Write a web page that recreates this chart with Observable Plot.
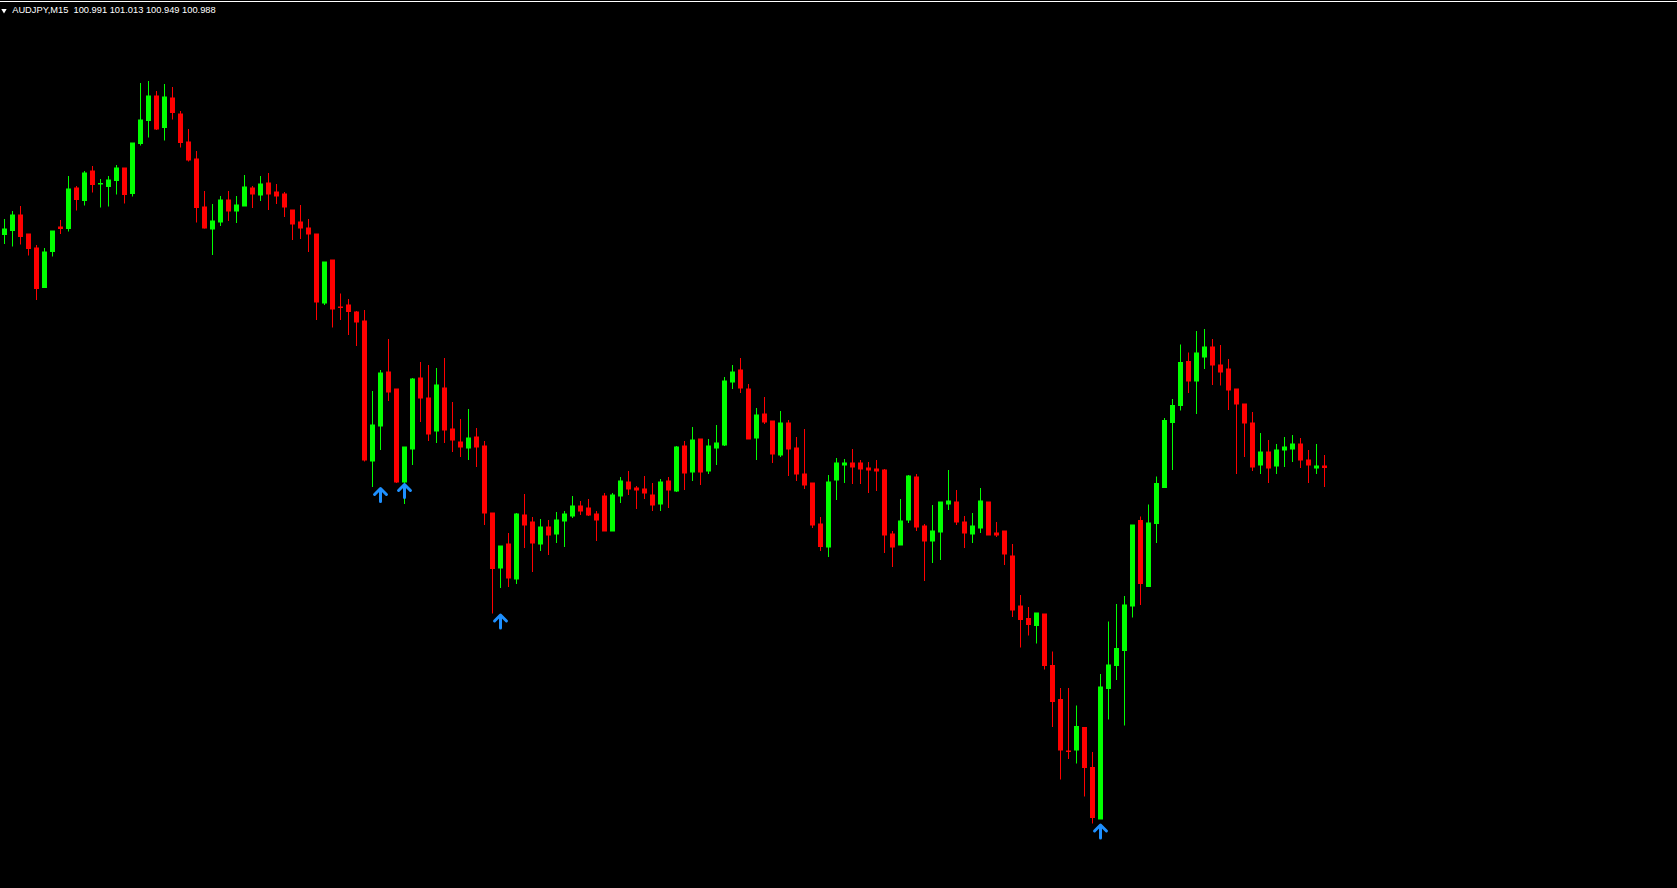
<!DOCTYPE html>
<html>
<head>
<meta charset="utf-8">
<script src="https://cdn.jsdelivr.net/npm/d3@7"></script>
<script src="https://cdn.jsdelivr.net/npm/@observablehq/plot@0.6"></script>
<style>
  html, body { margin: 0; padding: 0; background: #000; overflow: hidden; }
  #chart svg { display: block; }
</style>
</head>
<body>
<div id="chart"></div>
<script>
const symbol = "AUDJPY";
const timeframe = "M15";

const opens = [
  101.454, 101.462, 101.493, 101.455, 101.427, 101.348, 101.420, 101.469, 101.466, 101.547,
  101.522, 101.581, 101.555, 101.550, 101.562, 101.587, 101.536, 101.636, 101.682, 101.731,
  101.668, 101.727, 101.695, 101.639, 101.605, 101.509, 101.465, 101.479, 101.523, 101.501,
  101.511, 101.547, 101.533, 101.557, 101.539, 101.535, 101.503, 101.479, 101.467, 101.455,
  101.317, 101.403, 101.309, 101.313, 101.299, 101.281, 101.001, 101.071, 101.179, 101.145,
  100.959, 101.025, 101.167, 101.127, 101.061, 101.147, 101.065, 101.039, 101.027, 101.049,
  101.031, 100.897, 100.787, 100.835, 100.765, 100.893, 100.879, 100.835, 100.869, 100.855,
  100.881, 100.891, 100.911, 100.907, 100.895, 100.931, 100.861, 100.931, 100.959, 100.947,
  100.945, 100.933, 100.915, 100.961, 100.941, 101.031, 100.979, 101.045, 100.981, 101.027,
  101.033, 101.159, 101.183, 101.145, 101.047, 101.095, 101.081, 101.013, 101.077, 101.027,
  100.975, 100.957, 100.875, 100.829, 100.963, 100.993, 100.997, 100.997, 100.987, 100.985,
  100.983, 100.855, 100.833, 100.883, 100.969, 100.871, 100.841, 100.859, 100.915, 100.919,
  100.879, 100.855, 100.867, 100.919, 100.857, 100.861, 100.811, 100.711, 100.686, 100.672,
  100.695, 100.592, 100.524, 100.421, 100.423, 100.468, 100.388, 100.285, 100.546, 100.592,
  100.622, 100.711, 100.882, 100.750, 100.876, 100.948, 101.078, 101.112, 101.200, 101.161,
  101.209, 101.229, 101.193, 101.185, 101.145, 101.115, 101.077, 100.993, 101.019, 100.991,
  101.023, 101.025, 101.035, 101.003, 100.987, 100.991
];

const highs = [
  101.485, 101.501, 101.511, 101.455, 101.433, 101.427, 101.461, 101.483, 101.571, 101.551,
  101.581, 101.591, 101.565, 101.571, 101.593, 101.587, 101.637, 101.757, 101.761, 101.741,
  101.755, 101.749, 101.701, 101.665, 101.621, 101.541, 101.515, 101.531, 101.541, 101.531,
  101.573, 101.551, 101.571, 101.577, 101.555, 101.539, 101.503, 101.513, 101.485, 101.455,
  101.399, 101.403, 101.336, 101.325, 101.301, 101.303, 101.141, 101.183, 101.245, 101.145,
  101.029, 101.167, 101.199, 101.193, 101.187, 101.207, 101.119, 101.085, 101.105, 101.067,
  101.041, 100.897, 100.831, 100.857, 100.897, 100.935, 100.889, 100.885, 100.883, 100.899,
  100.901, 100.931, 100.921, 100.925, 100.901, 100.937, 100.937, 100.969, 100.981, 100.951,
  100.971, 100.957, 100.965, 100.969, 101.031, 101.041, 101.069, 101.045, 101.045, 101.073,
  101.169, 101.193, 101.207, 101.155, 101.107, 101.129, 101.081, 101.101, 101.083, 101.049,
  101.065, 100.957, 100.889, 100.973, 101.007, 101.005, 101.025, 101.003, 100.999, 101.003,
  100.985, 100.861, 100.925, 100.973, 100.975, 100.875, 100.913, 100.919, 100.983, 100.943,
  100.891, 100.897, 100.947, 100.919, 100.879, 100.861, 100.835, 100.733, 100.709, 100.697,
  100.695, 100.620, 100.547, 100.547, 100.512, 100.468, 100.419, 100.575, 100.680, 100.715,
  100.731, 100.873, 100.890, 100.914, 100.970, 101.087, 101.125, 101.234, 101.218, 101.261,
  101.265, 101.245, 101.233, 101.205, 101.145, 101.115, 101.099, 101.057, 101.043, 101.035,
  101.049, 101.053, 101.047, 101.023, 101.035, 101.013
];

const lows = [
  101.435, 101.430, 101.434, 101.412, 101.323, 101.348, 101.410, 101.455, 101.460, 101.502,
  101.512, 101.538, 101.508, 101.510, 101.534, 101.516, 101.530, 101.632, 101.648, 101.663,
  101.642, 101.684, 101.628, 101.600, 101.478, 101.466, 101.413, 101.471, 101.481, 101.477,
  101.511, 101.507, 101.521, 101.503, 101.515, 101.489, 101.443, 101.445, 101.419, 101.283,
  101.313, 101.268, 101.283, 101.253, 101.231, 101.000, 100.949, 101.023, 101.121, 100.957,
  100.915, 100.993, 101.079, 101.041, 101.037, 101.037, 101.019, 101.009, 101.003, 100.989,
  100.873, 100.696, 100.747, 100.749, 100.755, 100.827, 100.779, 100.821, 100.813, 100.837,
  100.829, 100.887, 100.893, 100.891, 100.841, 100.861, 100.861, 100.917, 100.933, 100.905,
  100.925, 100.901, 100.901, 100.907, 100.939, 100.943, 100.961, 100.953, 100.975, 100.993,
  101.031, 101.145, 101.137, 101.045, 101.003, 101.075, 100.997, 101.009, 100.971, 100.961,
  100.945, 100.867, 100.821, 100.809, 100.923, 100.957, 100.955, 100.955, 100.937, 100.941,
  100.817, 100.789, 100.833, 100.877, 100.861, 100.761, 100.797, 100.803, 100.903, 100.873,
  100.827, 100.837, 100.857, 100.853, 100.849, 100.793, 100.689, 100.628, 100.652, 100.636,
  100.584, 100.469, 100.364, 100.405, 100.396, 100.330, 100.276, 100.285, 100.484, 100.563,
  100.472, 100.688, 100.713, 100.750, 100.837, 100.948, 100.983, 101.102, 101.137, 101.095,
  101.185, 101.153, 101.152, 101.103, 100.975, 101.009, 100.981, 100.975, 100.957, 100.975,
  100.989, 100.999, 100.987, 100.957, 100.975, 100.949
];

const closes = [
  101.465, 101.493, 101.450, 101.426, 101.346, 101.419, 101.461, 101.466, 101.545, 101.524,
  101.577, 101.554, 101.556, 101.563, 101.587, 101.534, 101.637, 101.683, 101.731, 101.665,
  101.729, 101.698, 101.638, 101.603, 101.508, 101.467, 101.481, 101.523, 101.501, 101.513,
  101.549, 101.535, 101.555, 101.535, 101.531, 101.509, 101.475, 101.467, 101.455, 101.319,
  101.399, 101.305, 101.308, 101.300, 101.279, 101.003, 101.073, 101.177, 101.139, 100.959,
  101.029, 101.165, 101.127, 101.055, 101.153, 101.063, 101.043, 101.029, 101.047, 101.029,
  100.897, 100.786, 100.831, 100.767, 100.895, 100.873, 100.837, 100.869, 100.853, 100.883,
  100.895, 100.911, 100.901, 100.893, 100.883, 100.861, 100.933, 100.961, 100.945, 100.943,
  100.937, 100.913, 100.959, 100.943, 101.029, 100.977, 101.043, 100.979, 101.031, 101.037,
  101.161, 101.179, 101.147, 101.045, 101.093, 101.079, 101.015, 101.077, 101.025, 100.975,
  100.953, 100.873, 100.830, 100.959, 100.997, 100.997, 100.989, 100.985, 100.983, 100.981,
  100.853, 100.829, 100.881, 100.971, 100.869, 100.841, 100.861, 100.919, 100.921, 100.879,
  100.857, 100.871, 100.921, 100.853, 100.853, 100.815, 100.703, 100.684, 100.674, 100.697,
  100.592, 100.520, 100.423, 100.420, 100.470, 100.388, 100.288, 100.549, 100.593, 100.626,
  100.713, 100.873, 100.756, 100.877, 100.956, 101.082, 101.112, 101.198, 101.161, 101.217,
  101.229, 101.193, 101.179, 101.143, 101.115, 101.077, 100.989, 101.019, 100.987, 101.023,
  101.029, 101.035, 101.003, 100.993, 100.991, 100.988
];

// bars where the indicator printed an up arrow (placed at the previous bar's low)
const signalBars = [47, 50, 62, 137];

// ---- layout constants ----
const W = 1677, H = 888;
const barStep = 8;          // px between bars
const firstBarX = 4.5;      // px centre of first bar
const bodyHalf = 2.5 / barStep;
const priceTop = 101.923;   // price at top pixel row
const pricePerPx = 0.002;

const candles = opens.map((o, i) => ({i, open: o, high: highs[i], low: lows[i], close: closes[i]}));
const bulls = candles.filter(d => d.close > d.open);
const bears = candles.filter(d => d.close <= d.open);
const signals = signalBars.map(i => ({i, price: lows[i - 1]}));
const last = candles[candles.length - 1];
const header = `${symbol},${timeframe}\u00a0\u00a0${[last.open, last.high, last.low, last.close].map(v => v.toFixed(3)).join(" ")}`;

const UP = "#00ff00", DOWN = "#ff0000";

const chart = Plot.plot({
  width: W,
  height: H,
  margin: 0,
  style: {background: "#000"},
  x: {type: "linear", domain: [-firstBarX / barStep, (W - firstBarX) / barStep], axis: null},
  y: {type: "linear", domain: [priceTop - H * pricePerPx, priceTop], axis: null},
  marks: [
    Plot.frame({anchor: "top", stroke: "#ffffff", dy: 1}),
    Plot.ruleX(bulls, {x: "i", y1: "low", y2: "high", stroke: UP, strokeWidth: 1, dx: -0.5}),
    Plot.ruleX(bears, {x: "i", y1: "low", y2: "high", stroke: DOWN, strokeWidth: 1, dx: -0.5}),
    Plot.rect(bulls, {x1: d => d.i - bodyHalf, x2: d => d.i + bodyHalf, y1: "open", y2: "close", fill: UP, insetTop: -0.5, insetBottom: -0.5}),
    Plot.rect(bears, {x1: d => d.i - bodyHalf, x2: d => d.i + bodyHalf, y1: "open", y2: "close", fill: DOWN, insetTop: -0.5, insetBottom: -0.5}),
    Plot.vector(signals, {x: "i", y: "price", anchor: "end", rotate: 0, length: 13, r: 8, stroke: "#1e90ff", strokeWidth: 3, dx: -0.5, dy: 1}),
    Plot.dot([0], {frameAnchor: "top-left", dx: 3.5, dy: 10, symbol: "triangle", rotate: 180, r: 2, fill: "#ffffff", stroke: null}),
    Plot.text([header], {frameAnchor: "top-left", text: d => d, dx: 11.7, dy: 12.7, textAnchor: "start", lineAnchor: "bottom", fill: "#ffffff", fontSize: 9.3, fontFamily: "'Liberation Sans', Arial, sans-serif"})
  ]
});
document.getElementById("chart").appendChild(chart);
</script>
</body>
</html>
